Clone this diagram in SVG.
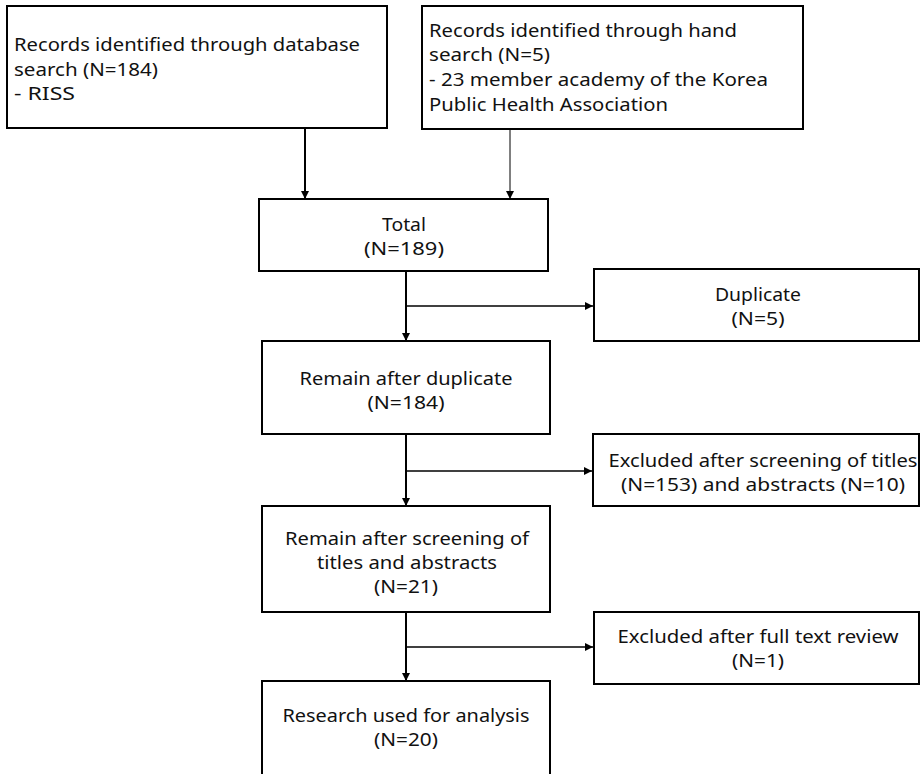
<svg xmlns="http://www.w3.org/2000/svg" width="921" height="774" viewBox="0 0 921 774">
<defs>
<style>
.box{fill:#fff;stroke:#000;stroke-width:2}
.t{font-family:"Noto Sans","Liberation Sans",sans-serif;font-size:18px;fill:#111}
.c{text-anchor:middle}
.ln{stroke:#000;stroke-width:2;fill:none}
.thin{stroke:#000;stroke-width:1;fill:none}
.br{stroke:#000;stroke-width:1.5;fill:none}
</style>
<marker id="ah" viewBox="0 0 10 10" refX="10" refY="5" markerWidth="8" markerHeight="8" markerUnits="userSpaceOnUse" orient="auto">
<path d="M0,0 L10,5 L0,10 Z" fill="#000"/>
</marker>
</defs>
<rect width="921" height="774" fill="#fff"/>
<g id="connectors">
<line class="ln" x1="305" y1="128" x2="305" y2="199" marker-end="url(#ah)"/>
<line class="thin" x1="510" y1="129" x2="510" y2="199" marker-end="url(#ah)"/>
<line class="ln" x1="406" y1="271" x2="406" y2="341" marker-end="url(#ah)"/>
<line class="br" x1="406" y1="306" x2="593" y2="306" marker-end="url(#ah)"/>
<line class="ln" x1="406" y1="434" x2="406" y2="506" marker-end="url(#ah)"/>
<line class="br" x1="406" y1="471" x2="592" y2="471" marker-end="url(#ah)"/>
<line class="ln" x1="406" y1="612" x2="406" y2="681" marker-end="url(#ah)"/>
<line class="br" x1="406" y1="647" x2="593" y2="647" marker-end="url(#ah)"/>
</g>
<g id="db">
<rect class="box" x="7" y="6" width="380" height="122"/>
<text class="t" x="14" y="51" textLength="346" lengthAdjust="spacingAndGlyphs">Records identified through database</text>
<text class="t" x="14" y="76" textLength="144" lengthAdjust="spacingAndGlyphs">search (N=184)</text>
<text class="t" x="14" y="100" textLength="61" lengthAdjust="spacingAndGlyphs">- RISS</text>
</g>
<g id="hand">
<rect class="box" x="422" y="6" width="381" height="123"/>
<text class="t" x="429" y="37" textLength="308" lengthAdjust="spacingAndGlyphs">Records identified through hand</text>
<text class="t" x="429" y="61" textLength="121" lengthAdjust="spacingAndGlyphs">search (N=5)</text>
<text class="t" x="429" y="86" textLength="339" lengthAdjust="spacingAndGlyphs">- 23 member academy of the Korea</text>
<text class="t" x="429" y="111" textLength="239" lengthAdjust="spacingAndGlyphs">Public Health Association</text>
</g>
<g id="total">
<rect class="box" x="259" y="199" width="289" height="72"/>
<text class="t c" x="404" y="231" textLength="44" lengthAdjust="spacingAndGlyphs">Total</text>
<text class="t c" x="404" y="255" textLength="80" lengthAdjust="spacingAndGlyphs">(N=189)</text>
</g>
<g id="duplicate">
<rect class="box" x="594" y="269" width="325" height="72"/>
<text class="t c" x="758" y="301" textLength="86" lengthAdjust="spacingAndGlyphs">Duplicate</text>
<text class="t c" x="758" y="325" textLength="53" lengthAdjust="spacingAndGlyphs">(N=5)</text>
</g>
<g id="remain1">
<rect class="box" x="262" y="341" width="288" height="93"/>
<text class="t c" x="406" y="385" textLength="213" lengthAdjust="spacingAndGlyphs">Remain after duplicate</text>
<text class="t c" x="406" y="409" textLength="77" lengthAdjust="spacingAndGlyphs">(N=184)</text>
</g>
<g id="excluded1">
<rect class="box" x="593" y="434" width="326" height="72"/>
<text class="t c" x="763" y="467" textLength="309" lengthAdjust="spacingAndGlyphs">Excluded after screening of titles</text>
<text class="t c" x="763" y="491" textLength="284" lengthAdjust="spacingAndGlyphs">(N=153) and abstracts (N=10)</text>
</g>
<g id="remain2">
<rect class="box" x="262" y="506" width="288" height="106"/>
<text class="t c" x="407" y="545" textLength="244" lengthAdjust="spacingAndGlyphs">Remain after screening of</text>
<text class="t c" x="407" y="569" textLength="180" lengthAdjust="spacingAndGlyphs">titles and abstracts</text>
<text class="t c" x="406" y="593" textLength="64" lengthAdjust="spacingAndGlyphs">(N=21)</text>
</g>
<g id="excluded2">
<rect class="box" x="594" y="612" width="325" height="72"/>
<text class="t c" x="758" y="643" textLength="281" lengthAdjust="spacingAndGlyphs">Excluded after full text review</text>
<text class="t c" x="758" y="667" textLength="52" lengthAdjust="spacingAndGlyphs">(N=1)</text>
</g>
<g id="research">
<rect class="box" x="262" y="681" width="288" height="110"/>
<text class="t c" x="406" y="722" textLength="247" lengthAdjust="spacingAndGlyphs">Research used for analysis</text>
<text class="t c" x="406" y="746" textLength="64" lengthAdjust="spacingAndGlyphs">(N=20)</text>
</g>
</svg>
